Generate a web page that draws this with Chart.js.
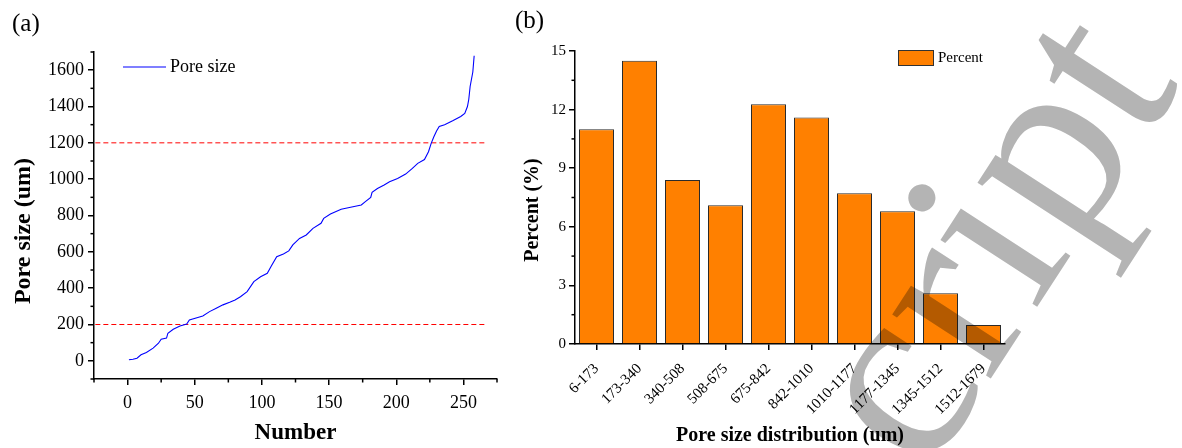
<!DOCTYPE html>
<html lang="en">
<head>
  <meta charset="UTF-8" />
  <title>Pore size</title>
  <script src="https://cdn.jsdelivr.net/npm/chart.js"></script>
  <style>
    body { margin: 0; background: #fff; }
    .wrap { position: relative; width: 1182px; height: 448px; overflow: hidden; }
    #panelA { position: absolute; left: 0; top: 0; }
    #panelB { position: absolute; left: 510px; top: 0; }
  </style>
</head>
<body>
  <div class="wrap">
    <canvas id="panelA" width="510" height="448"></canvas>
    <canvas id="panelB" width="672" height="448"></canvas>
  </div>
  <script>
    // (a) sorted pore sizes
    const poreIndex = [1, 4, 7, 10, 14, 19, 23, 25, 29, 30, 34, 39, 44, 46, 51, 56, 61, 66, 71, 76,
      80, 84, 89, 94, 99, 104, 107, 111, 116, 120, 123, 128, 133, 138, 144, 146, 151, 159, 166, 174,
      177, 181, 182, 186, 191, 195, 201, 207, 212, 216, 221, 224, 226, 228, 230, 232, 236, 242, 248, 251,
      253, 254, 255, 257, 258];
    const poreSize = [6, 9, 14, 33, 46, 70, 97, 119, 125, 152, 174, 192, 203, 225, 236, 247, 271, 290, 308, 322,
      335, 353, 381, 436, 463, 482, 522, 573, 588, 605, 638, 674, 693, 729, 757, 784, 808, 834, 845, 858,
      876, 900, 928, 949, 968, 986, 1004, 1028, 1059, 1087, 1108, 1151, 1197, 1233, 1265, 1290, 1300, 1321, 1345, 1362,
      1400, 1440, 1510, 1590, 1679];
    const refLevels = [200, 1200];
    const refSpan = [-24, 266];
    const xTicksA = [0, 50, 100, 150, 200, 250];
    const yTicksA = [0, 200, 400, 600, 800, 1000, 1200, 1400, 1600];
    const xMinorA = [-25, 25, 75, 125, 175, 225, 275];
    const yMinorA = [-100, 100, 300, 500, 700, 900, 1100, 1300, 1500, 1700];

    // (b) distribution
    const sizeRanges = ['6-173', '173-340', '340-508', '508-675', '675-842', '842-1010',
      '1010-1177', '1177-1345', '1345-1512', '1512-1679'];
    const percentValues = [11.0, 14.5, 8.4, 7.1, 12.27, 11.6, 7.72, 6.8, 2.6, 0.97];
    const yMinorB = [1.5, 4.5, 7.5, 10.5, 13.5];

    const serif = "'Liberation Serif', 'Times New Roman', serif";
    Chart.defaults.font.family = serif;
    Chart.defaults.color = '#000';

    const tickGrid = { drawOnChartArea: false, drawTicks: true, tickLength: 6, color: '#000', lineWidth: 1.5 };
    const axisBorder = { color: '#000', width: 1.5 };
    const plain = v => String(v);

    function line(ctx, x1, y1, x2, y2) {
      ctx.beginPath(); ctx.moveTo(x1, y1); ctx.lineTo(x2, y2); ctx.stroke();
    }

    function minorTicks(chart, xVals, yVals) {
      const { ctx, chartArea, scales } = chart;
      ctx.strokeStyle = '#000';
      ctx.lineWidth = 1.5;
      xVals.forEach(v => {
        const px = scales.x.getPixelForValue(v);
        line(ctx, px, chartArea.bottom, px, chartArea.bottom + 3.5);
      });
      yVals.forEach(v => {
        const py = scales.y.getPixelForValue(v);
        line(ctx, chartArea.left - 3.5, py, chartArea.left, py);
      });
    }

    function sideTitle(ctx, text, x, y, size) {
      ctx.save();
      ctx.translate(x, y);
      ctx.rotate(-Math.PI / 2);
      ctx.textAlign = 'center';
      ctx.textBaseline = 'middle';
      ctx.font = 'bold ' + size + 'px ' + serif;
      ctx.fillStyle = '#000';
      ctx.fillText(text, 0, 0);
      ctx.restore();
    }

    const decorA = {
      id: 'decorA',
      afterDraw(chart) {
        const ctx = chart.ctx;
        ctx.save();
        minorTicks(chart, xMinorA, yMinorA);
        ctx.strokeStyle = '#0000ff';
        ctx.lineWidth = 1.2;
        line(ctx, 123, 67, 166, 67);
        ctx.fillStyle = '#000';
        ctx.textBaseline = 'middle';
        ctx.font = '18px ' + serif;
        ctx.fillText('Pore size', 170, 67);
        ctx.font = '25px ' + serif;
        ctx.fillText('(a)', 12, 24);
        ctx.restore();
        sideTitle(ctx, 'Pore size (um)', 24, 231, 24);
      }
    };

    const decorB = {
      id: 'decorB',
      afterDraw(chart) {
        const ctx = chart.ctx;
        ctx.save();
        minorTicks(chart, [], yMinorB);
        ctx.fillStyle = '#FF8000';
        ctx.fillRect(388, 50, 35, 15);
        ctx.strokeStyle = '#333';
        ctx.lineWidth = 1;
        ctx.strokeRect(388.5, 50.5, 35, 15);
        ctx.fillStyle = '#000';
        ctx.textBaseline = 'middle';
        ctx.font = '15px ' + serif;
        ctx.fillText('Percent', 428, 58);
        ctx.font = '25px ' + serif;
        ctx.fillText('(b)', 5, 21);
        ctx.restore();
        sideTitle(ctx, 'Percent (%)', 23, 210, 20);
        // watermark
        ctx.save();
        ctx.translate(416, 478);
        ctx.rotate(-57 * Math.PI / 180);
        ctx.globalCompositeOperation = 'multiply';
        ctx.fillStyle = '#b4b4b4';
        ctx.textBaseline = 'alphabetic';
        ctx.font = '256px ' + serif;
        ctx.fillText('cript', 0, 0);
        ctx.restore();
      }
    };

    const lineSets = [{
      data: poreIndex.map((n, i) => ({ x: n, y: poreSize[i] })),
      borderColor: '#0000ff',
      borderWidth: 1.1,
      pointRadius: 0,
      tension: 0
    }].concat(refLevels.map(v => ({
      data: refSpan.map(x => ({ x: x, y: v })),
      borderColor: '#ff0000',
      borderWidth: 1,
      borderDash: [5, 3],
      pointRadius: 0
    })));

    new Chart(document.getElementById('panelA'), {
      type: 'line',
      data: { datasets: lineSets },
      options: {
        responsive: false,
        animation: false,
        devicePixelRatio: 1,
        layout: { padding: { top: 52, right: 13, left: 0, bottom: 0 } },
        plugins: { legend: { display: false }, tooltip: { enabled: false } },
        scales: {
          x: {
            type: 'linear', min: -25, max: 275,
            ticks: { font: { size: 18 }, padding: 7, maxRotation: 0, callback: plain },
            afterBuildTicks: s => { s.ticks = xTicksA.map(v => ({ value: v })); },
            afterFit: s => { s.height = 69; },
            grid: tickGrid,
            border: axisBorder,
            title: { display: true, text: 'Number', font: { size: 23, weight: 'bold' }, padding: { top: 0, bottom: 1 } }
          },
          y: {
            type: 'linear', min: -100, max: 1700,
            ticks: { font: { size: 18 }, padding: 4, callback: plain },
            afterBuildTicks: s => { s.ticks = yTicksA.map(v => ({ value: v })); },
            afterFit: s => { s.width = 94; },
            grid: tickGrid,
            border: axisBorder
          }
        }
      },
      plugins: [decorA]
    });

    new Chart(document.getElementById('panelB'), {
      type: 'bar',
      data: {
        labels: sizeRanges,
        datasets: [{
          label: 'Percent',
          data: percentValues,
          backgroundColor: '#FF8000',
          borderColor: '#2b2b2b',
          borderWidth: 1,
          barPercentage: 0.814,
          categoryPercentage: 1
        }]
      },
      options: {
        responsive: false,
        animation: false,
        devicePixelRatio: 1,
        layout: { padding: { top: 51, right: 177, left: 0, bottom: 0 } },
        plugins: { legend: { display: false }, tooltip: { enabled: false } },
        scales: {
          x: {
            ticks: { font: { size: 15 }, minRotation: 45, maxRotation: 45, autoSkip: false, padding: 10 },
            afterFit: s => { s.height = 104; },
            grid: Object.assign({}, tickGrid, { offset: false }),
            border: axisBorder,
            title: { display: true, text: 'Pore size distribution (um)', font: { size: 20, weight: 'bold' }, padding: { top: 0, bottom: 0 } }
          },
          y: {
            min: 0, max: 15,
            ticks: { stepSize: 3, font: { size: 15 }, padding: 3 },
            afterFit: s => { s.width = 65; },
            grid: tickGrid,
            border: axisBorder
          }
        }
      },
      plugins: [decorB]
    });
  </script>
</body>
</html>
